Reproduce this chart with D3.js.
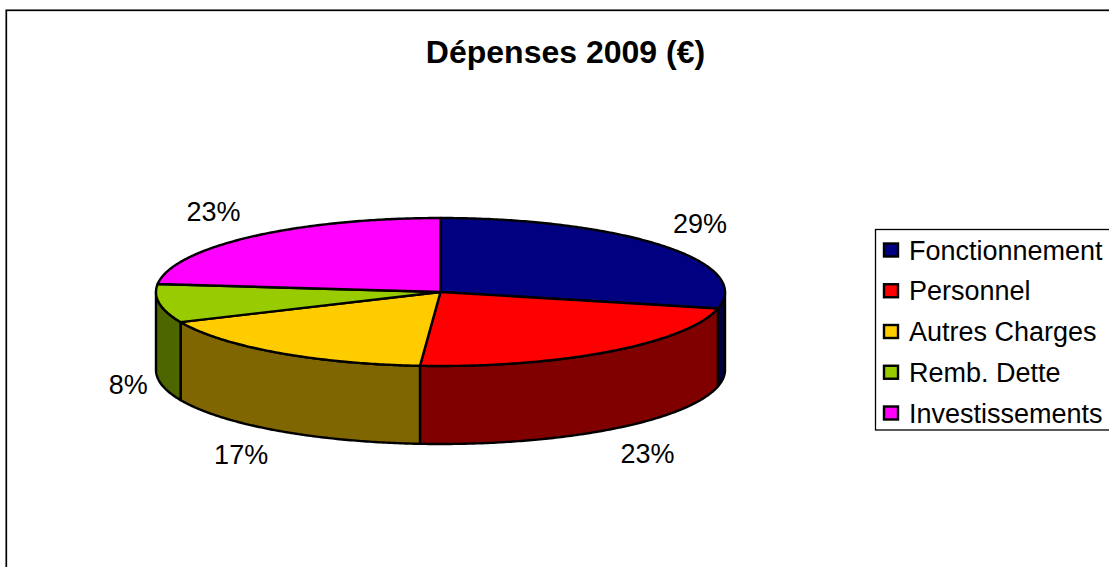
<!DOCTYPE html>
<html>
<head>
<meta charset="utf-8">
<script src="https://cdn.jsdelivr.net/npm/d3@7/dist/d3.min.js"></script>
<style>
html,body{margin:0;padding:0;background:#fff;overflow:hidden}
svg{display:block}
text{font-family:"Liberation Sans",Arial,sans-serif;fill:#000}
</style>
</head>
<body>
<script>
const titleText = "Dépenses 2009 (€)";
const categories = ["Fonctionnement","Personnel","Autres Charges","Remb. Dette","Investissements"];
const values = [28.6,22.6,17.2,8.4,23.3];
const topColors = ["#000080","#ff0000","#ffcc00","#99cc00","#ff00ff"];
const wallColors = ["#000040","#800000","#806600","#4d6600","#800080"];

const W=1109,H=567;
const cx=440.5,cy=292,rx=284.5,ry=74,depth=78;
const labelRx=[332,348,347,316,340],labelRy=106;

const svg=d3.select("body").append("svg").attr("width",W).attr("height",H);
svg.append("rect").attr("x",6.3).attr("y",10.3).attr("width",W+20).attr("height",H+20)
  .attr("fill","#fff").attr("stroke","#000").attr("stroke-width",1.7);

svg.append("text").attr("x",565.5).attr("y",63).attr("text-anchor","middle")
  .attr("font-size",32).attr("font-weight","bold").text(titleText);

const x=d3.scaleLinear().domain([-1,1]).range([cx-rx,cx+rx]);
const y=d3.scaleLinear().domain([-1,1]).range([cy-ry,cy+ry]);
const total=d3.sum(values);
const arcs=d3.pie().sort(null).value(d=>d)(values);
const line=d3.line().x(d=>d[0]).y(d=>d[1]);
const samples=(a,b)=>{const n=Math.max(2,Math.ceil((b-a)/0.01));return d3.range(n+1).map(i=>a+(b-a)*i/n);};
const rim=t=>[x(Math.sin(t)),y(-Math.cos(t))];

// walls (front half only)
arcs.forEach((s,i)=>{
  const a=Math.max(s.startAngle,Math.PI/2),b=Math.min(s.endAngle,Math.PI*1.5);
  if(b<=a) return;
  const front=samples(a,b).map(rim);
  const back=front.slice().reverse().map(p=>[p[0],p[1]+depth]);
  svg.append("path").attr("d",line(front.concat(back))+"Z")
    .attr("fill",wallColors[i]).attr("stroke","#000").attr("stroke-width",2.4).attr("stroke-linejoin","round");
});
// top slices
arcs.forEach((s,i)=>{
  const pts=[[x(0),y(0)]].concat(samples(s.startAngle,s.endAngle).map(rim));
  svg.append("path").attr("d",line(pts)+"Z")
    .attr("fill",topColors[i]).attr("stroke","#000").attr("stroke-width",2.4).attr("stroke-linejoin","round");
});
// percentage labels
arcs.forEach((s,i)=>{
  const m=(s.startAngle+s.endAngle)/2;
  const lx=cx+labelRx[i]*Math.sin(m);
  const ly=cy-labelRy*Math.cos(m)+(Math.cos(m)<0?depth:0);
  svg.append("text").attr("x",lx).attr("y",ly).attr("dy","0.28em").attr("text-anchor","middle")
    .attr("font-size",27).text(Math.round(s.value/total*100)+"%");
});
// legend
const lg=svg.append("g");
lg.append("rect").attr("x",875.5).attr("y",229.5).attr("width",260).attr("height",200.5)
  .attr("fill","#fff").attr("stroke","#000").attr("stroke-width",1.3);
const ly=d3.scalePoint().domain(categories).range([250,413]);
categories.forEach((c,i)=>{
  lg.append("rect").attr("x",884).attr("y",ly(c)-6.5).attr("width",14).attr("height",13)
    .attr("fill",topColors[i]).attr("stroke","#000").attr("stroke-width",2.4);
  lg.append("text").attr("x",909).attr("y",ly(c)).attr("dy","0.36em").attr("font-size",27).text(c);
});
</script>
</body>
</html>
